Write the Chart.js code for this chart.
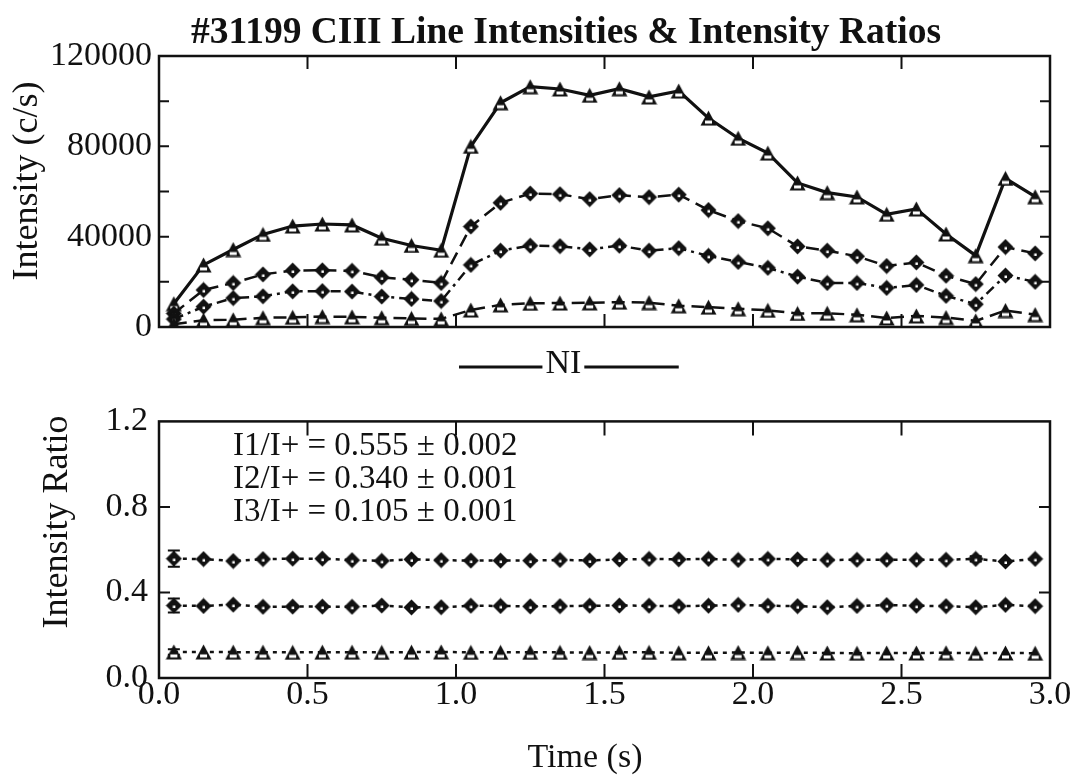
<!DOCTYPE html>
<html>
<head>
<meta charset="utf-8">
<script src="https://cdn.jsdelivr.net/npm/chart.js@4.4.0/dist/chart.umd.min.js"></script>
<style>
  html, body { margin: 0; padding: 0; background: #fff; }
  #wrap { position: relative; width: 1080px; height: 778px; }
  #top { position: absolute; left: 0; top: 0; }
  #bottom { position: absolute; left: 0; top: 390px; }
</style>
</head>
<body>
<div id="wrap">
  <canvas id="top" width="1080" height="390"></canvas>
  <canvas id="bottom" width="1080" height="388"></canvas>
</div>
<script>
// shot times (s)
const times = [0.05, 0.15, 0.25, 0.35, 0.45, 0.55, 0.65, 0.75, 0.85, 0.95,
               1.05, 1.15, 1.25, 1.35, 1.45, 1.55, 1.65, 1.75, 1.85, 1.95,
               2.05, 2.15, 2.25, 2.35, 2.45, 2.55, 2.65, 2.75, 2.85, 2.95];

// line intensities (c/s)
const totalIntensity = [10300, 27500, 34300, 41000, 44700, 45600, 45200, 39300, 36100, 34000,
                        80000, 99300, 106400, 105400, 102600, 105500, 101900, 104500, 92500, 83600,
                        77000, 63800, 59500, 57600, 49900, 52300, 41200, 31600, 65800, 57700];
const i1Intensity = [6000, 16400, 19500, 23300, 25000, 25100, 24900, 22000, 20900, 19500,
                     44500, 55000, 59100, 58800, 56600, 58400, 57500, 58600, 51800, 46900,
                     43700, 35700, 33800, 31300, 27000, 28600, 22700, 19000, 35400, 32600];
const i2Intensity = [3500, 9000, 12800, 13600, 15800, 15900, 15700, 13500, 12400, 11500,
                     27500, 33800, 36000, 35800, 34400, 36000, 33800, 34900, 31500, 28800,
                     26200, 22300, 19500, 19500, 17300, 18600, 13800, 10100, 22800, 20000];
const i3Intensity = [1200, 3000, 3200, 4100, 4300, 4600, 4500, 4100, 3800, 3600,
                     7500, 9800, 10500, 10600, 10700, 11000, 10800, 9400, 8800, 8100,
                     7400, 6000, 6100, 5400, 4000, 4900, 4200, 2700, 7300, 5500];

// intensity ratios and their error bars
const ratio1 = [0.558, 0.556, 0.547, 0.556, 0.558, 0.558, 0.551, 0.548, 0.555, 0.551,
                0.549, 0.549, 0.549, 0.552, 0.550, 0.554, 0.557, 0.555, 0.557, 0.552,
                0.557, 0.555, 0.552, 0.553, 0.553, 0.553, 0.553, 0.557, 0.545, 0.557];
const ratio2 = [0.339, 0.337, 0.343, 0.333, 0.334, 0.334, 0.333, 0.339, 0.330, 0.331,
                0.338, 0.337, 0.335, 0.336, 0.338, 0.339, 0.338, 0.336, 0.338, 0.342,
                0.338, 0.336, 0.331, 0.337, 0.341, 0.338, 0.336, 0.331, 0.342, 0.336];
const ratio3 = [0.122, 0.122, 0.121, 0.121, 0.120, 0.121, 0.121, 0.120, 0.121, 0.122,
                0.120, 0.120, 0.120, 0.120, 0.119, 0.120, 0.120, 0.118, 0.118, 0.119,
                0.118, 0.119, 0.117, 0.116, 0.117, 0.117, 0.118, 0.116, 0.117, 0.116];
const ratio1Err = [0.038, 0, 0, 0, 0, 0, 0, 0, 0, 0, 0, 0, 0, 0, 0, 0, 0, 0, 0, 0, 0, 0, 0, 0, 0, 0, 0, 0.012, 0, 0];
const ratio2Err = [0.033, 0, 0, 0, 0, 0, 0, 0, 0, 0, 0, 0, 0, 0, 0, 0, 0, 0, 0, 0, 0, 0, 0, 0, 0, 0, 0, 0, 0, 0];
const ratio3Err = [0.013, 0, 0, 0, 0, 0, 0, 0, 0, 0, 0, 0, 0, 0, 0, 0, 0, 0, 0, 0, 0, 0, 0, 0, 0, 0, 0, 0, 0, 0];

// fitted mean ratios printed in the lower panel
const ratioNames = ['I1/I+', 'I2/I+', 'I3/I+'];
const ratioMeans = [0.555, 0.340, 0.105];
const ratioMeanErrs = [0.002, 0.001, 0.001];

// NI injection window (s)
const niWindow = [1.0, 1.75];

const chartTitle = '#31199 CIII Line Intensities & Intensity Ratios';
const serif = "'Liberation Serif', 'Times New Roman', serif";
const ink = '#111';

// markers: overlapping open / filled symbols as in the print
function diamondMark() {
  const c = document.createElement('canvas');
  c.width = 17; c.height = 17;
  const g = c.getContext('2d');
  g.fillStyle = ink;
  g.beginPath();
  g.moveTo(8.5, 0.5); g.lineTo(16.5, 8.5); g.lineTo(8.5, 16.5); g.lineTo(0.5, 8.5);
  g.closePath(); g.fill();
  g.fillStyle = '#fff';
  g.fillRect(7.5, 8.5, 2.5, 2.5);
  return c;
}
function triangleMark() {
  const c = document.createElement('canvas');
  c.width = 17; c.height = 16;
  const g = c.getContext('2d');
  g.fillStyle = ink;
  g.beginPath();
  g.moveTo(8.5, 0.5); g.lineTo(16.5, 15.5); g.lineTo(0.5, 15.5);
  g.closePath(); g.fill();
  g.fillStyle = '#fff';
  g.fillRect(5, 10.5, 7, 3);
  return c;
}
const diamond = diamondMark();
const triangle = triangleMark();

function series(values, label, dash, mark, width) {
  return {
    label: label,
    data: times.map((t, i) => ({ x: t, y: values[i] })),
    borderColor: ink,
    borderWidth: width,
    borderDash: dash,
    pointStyle: mark,
    pointRadius: 8,
    tension: 0,
    fill: false
  };
}

// box around the plot with inward ticks on all four sides
const framePlugin = {
  id: 'frame',
  afterDatasetsDraw(chart, args, opts) {
    const { ctx, chartArea: a, scales: { x, y } } = chart;
    ctx.save();
    ctx.strokeStyle = ink;
    ctx.lineWidth = 2.5;
    ctx.strokeRect(a.left, a.top, a.right - a.left, a.bottom - a.top);
    ctx.lineWidth = 2;
    ctx.beginPath();
    x.ticks.forEach(t => {
      const px = x.getPixelForValue(t.value);
      if (px <= a.left + 2 || px >= a.right - 2) return;
      ctx.moveTo(px, a.bottom); ctx.lineTo(px, a.bottom - opts.xLen);
      ctx.moveTo(px, a.top); ctx.lineTo(px, a.top + opts.xLen);
    });
    y.ticks.forEach(t => {
      const py = y.getPixelForValue(t.value);
      if (py <= a.top + 2 || py >= a.bottom - 2) return;
      ctx.moveTo(a.left, py); ctx.lineTo(a.left + opts.yLen, py);
      ctx.moveTo(a.right, py); ctx.lineTo(a.right - opts.yLen, py);
    });
    ctx.stroke();
    ctx.restore();
  }
};

function verticalText(ctx, text, cx, cy) {
  ctx.save();
  ctx.translate(cx, cy);
  ctx.rotate(-Math.PI / 2);
  ctx.fillText(text, 0, 0);
  ctx.restore();
}

const topNotes = {
  id: 'topNotes',
  afterDraw(chart) {
    const { ctx, scales: { x } } = chart;
    ctx.save();
    ctx.fillStyle = ink;
    ctx.strokeStyle = ink;
    ctx.textAlign = 'center';
    ctx.textBaseline = 'middle';
    ctx.font = 'bold 37.5px ' + serif;
    ctx.fillText(chartTitle, 566, 33);
    ctx.font = '36px ' + serif;
    verticalText(ctx, 'Intensity (c/s)', 28, 181);
    // NI puff marker
    ctx.font = '34px ' + serif;
    const x0 = x.getPixelForValue(niWindow[0]);
    const x1 = x.getPixelForValue(niWindow[1]);
    const mid = (x0 + x1) / 2 - 4;
    const w = ctx.measureText('NI').width;
    ctx.fillText('NI', mid, 364);
    ctx.lineWidth = 3;
    ctx.beginPath();
    ctx.moveTo(x0 + 3, 367); ctx.lineTo(mid - w / 2 - 3, 367);
    ctx.moveTo(mid + w / 2 + 3, 367); ctx.lineTo(x1, 367);
    ctx.stroke();
    ctx.restore();
  }
};

const bottomNotes = {
  id: 'bottomNotes',
  beforeDatasetsDraw(chart) {
    const { ctx, scales: { x, y } } = chart;
    ctx.save();
    ctx.strokeStyle = ink;
    ctx.lineWidth = 2;
    ctx.beginPath();
    [[ratio1, ratio1Err], [ratio2, ratio2Err], [ratio3, ratio3Err]].forEach(([vals, errs]) => {
      errs.forEach((e, i) => {
        if (!e) return;
        const px = x.getPixelForValue(times[i]);
        const lo = y.getPixelForValue(vals[i] - e);
        const hi = y.getPixelForValue(vals[i] + e);
        ctx.moveTo(px, lo); ctx.lineTo(px, hi);
        ctx.moveTo(px - 6, lo); ctx.lineTo(px + 6, lo);
        ctx.moveTo(px - 6, hi); ctx.lineTo(px + 6, hi);
      });
    });
    ctx.stroke();
    ctx.restore();
  },
  afterDraw(chart) {
    const { ctx, chartArea: a } = chart;
    ctx.save();
    ctx.fillStyle = ink;
    ctx.textAlign = 'left';
    ctx.textBaseline = 'alphabetic';
    ctx.font = '33px ' + serif;
    ratioNames.forEach((name, i) => {
      const line = name + ' = ' + ratioMeans[i].toFixed(3) + ' \u00b1 ' + ratioMeanErrs[i].toFixed(3);
      ctx.fillText(line, a.left + 74, 65 + i * 33);
    });
    ctx.textAlign = 'center';
    ctx.textBaseline = 'middle';
    ctx.font = '36px ' + serif;
    verticalText(ctx, 'Intensity Ratio', 58, 132);
    ctx.font = '34px ' + serif;
    ctx.fillText('Time (s)', 585, 368);
    ctx.restore();
  }
};

Chart.defaults.font.family = serif;
Chart.defaults.color = ink;

new Chart(document.getElementById('top'), {
  type: 'line',
  data: {
    datasets: [
      series(i3Intensity, 'I3', [13, 7], triangle, 2.5),
      series(i2Intensity, 'I2', [10, 5, 3, 5], diamond, 2.5),
      series(i1Intensity, 'I1', [13, 7], diamond, 2.5),
      series(totalIntensity, 'I+', [], triangle, 3.2)
    ]
  },
  options: {
    responsive: false,
    animation: false,
    layout: { padding: { top: 56, right: 30, bottom: 63, left: 0 } },
    plugins: {
      legend: { display: false },
      tooltip: { enabled: false },
      frame: { xLen: 13, yLen: 10 }
    },
    scales: {
      x: { type: 'linear', min: 0, max: 3, display: false, ticks: { stepSize: 0.5 } },
      y: {
        min: 0, max: 120000,
        grid: { display: false, drawTicks: false },
        border: { display: false },
        ticks: {
          stepSize: 20000,
          padding: 7,
          font: { size: 34 },
          color: ink,
          callback: v => (v % 40000 === 0 ? String(v) : '')
        },
        afterFit: s => { s.width = 159; }
      }
    }
  },
  plugins: [framePlugin, topNotes]
});

new Chart(document.getElementById('bottom'), {
  type: 'line',
  data: {
    datasets: [
      series(ratio3, 'I3/I+', [4, 5], triangle, 2.5),
      series(ratio2, 'I2/I+', [4, 5], diamond, 2.5),
      series(ratio1, 'I1/I+', [4, 5], diamond, 2.5)
    ]
  },
  options: {
    responsive: false,
    animation: false,
    layout: { padding: { top: 17, right: 30, bottom: 0, left: 0 } },
    plugins: {
      legend: { display: false },
      tooltip: { enabled: false },
      frame: { xLen: 14, yLen: 11 }
    },
    scales: {
      x: {
        type: 'linear', min: 0, max: 3,
        grid: { display: false, drawTicks: false },
        border: { display: false },
        ticks: { stepSize: 0.5, padding: -3, font: { size: 34 }, color: ink, maxRotation: 0,
                 callback: v => v.toFixed(1) },
        afterFit: s => { s.height = 100; }
      },
      y: {
        min: 0, max: 1.2,
        grid: { display: false, drawTicks: false },
        border: { display: false },
        ticks: {
          stepSize: 0.2,
          padding: 11,
          font: { size: 34 },
          color: ink,
          callback: v => (Math.round(v * 10) % 4 === 0 ? v.toFixed(1) : '')
        },
        afterFit: s => { s.width = 159; }
      }
    }
  },
  plugins: [framePlugin, bottomNotes]
});
</script>
</body>
</html>
